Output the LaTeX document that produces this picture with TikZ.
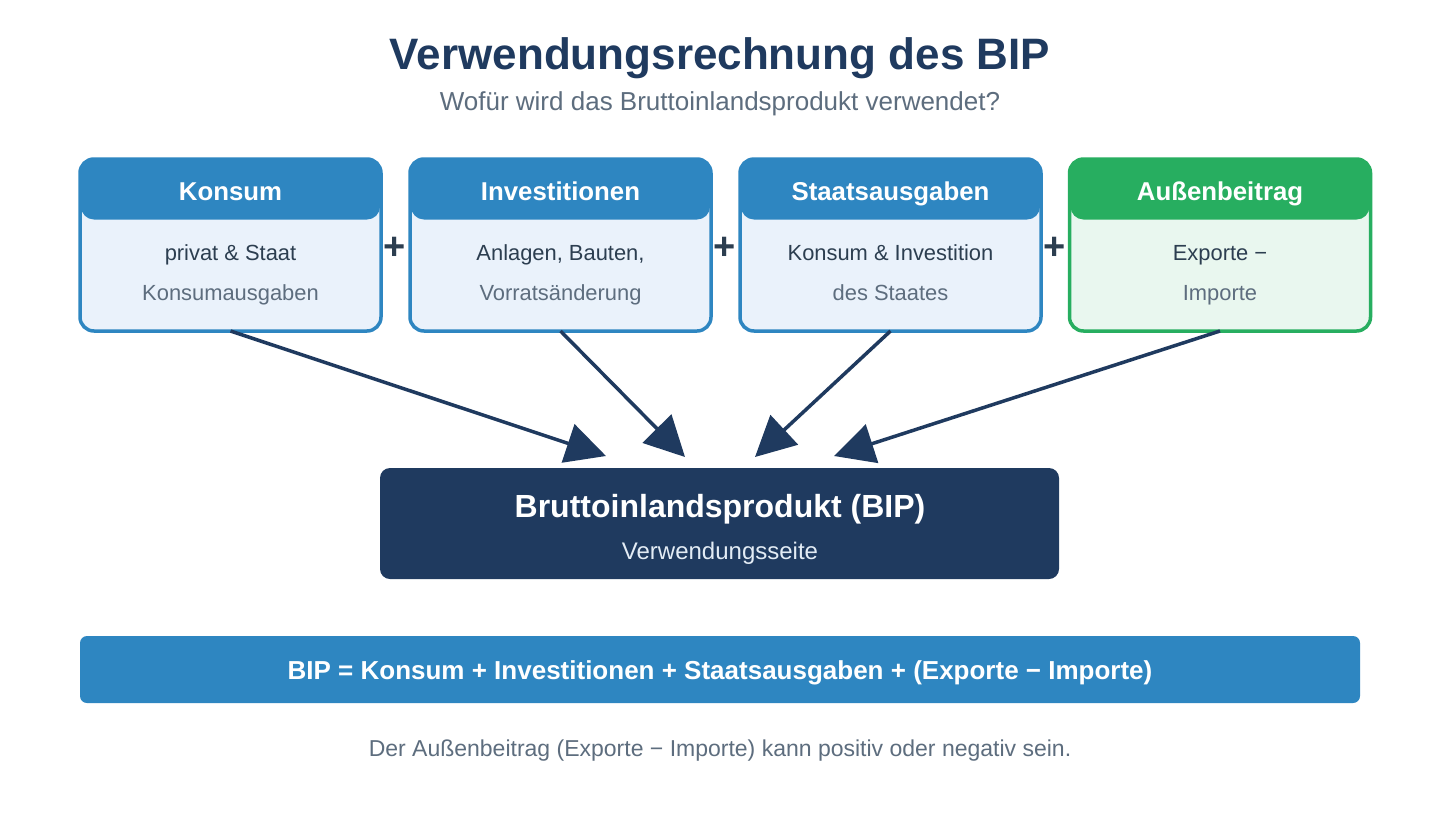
\documentclass[tikz,border=0pt]{standalone}
\usepackage{fontspec}
\setmainfont{Liberation Sans}
\usetikzlibrary{arrows.meta}
\definecolor{navy}{HTML}{1F3A5F}
\definecolor{cblue}{HTML}{2E86C1}
\definecolor{lblue}{HTML}{EAF2FB}
\definecolor{cgreen}{HTML}{27AE60}
\definecolor{lgreen}{HTML}{E9F7EF}
\definecolor{dtext}{HTML}{2C3E50}
\definecolor{gtext}{HTML}{5D6D7E}
\definecolor{stext}{HTML}{E3ECF5}
\newcommand{\fs}[1]{\fontsize{#1}{#1}\selectfont}
\tikzset{
  card/.style={rounded corners=14pt, minimum width=301pt, minimum height=172pt, inner sep=0pt, outer sep=0pt},
  cardhead/.style={fill=#1, rounded corners=13pt, minimum width=299pt, minimum height=60pt, inner sep=0pt},
  headtxt/.style={anchor=base, text=white, font=\fs{25.8}\bfseries},
  line1/.style={anchor=base, text=dtext, font=\fs{21.9}},
  line2/.style={anchor=base, text=gtext, font=\fs{21.9}},
  plussign/.style={anchor=base, text=dtext, font=\fs{38}\bfseries},
  arr/.style={draw=navy, line width=3.5pt, -{Triangle[length=40pt,width=40pt]}},
}
\begin{document}
\begin{tikzpicture}[x=1pt,y=-1pt]
\useasboundingbox[fill=white] (0,0) rectangle (1440,820);
% title
\node[anchor=base, text=navy, font=\fs{44}\bfseries] (title) at (720,69) {Verwendungsrechnung des BIP};
\node[anchor=base, text=gtext, font=\fs{26}] (subtitle) at (720,110) {Wofür wird das Bruttoinlandsprodukt verwendet?};
% cards
\foreach \nm/\cx/\c/\l/\hd/\ta/\tb in {
  k/230.5/cblue/lblue/Konsum/{privat \& Staat}/Konsumausgaben,
  i/560.5/cblue/lblue/Investitionen/{Anlagen, Bauten,}/Vorratsänderung,
  s/890.5/cblue/lblue/Staatsausgaben/{Konsum \& Investition}/des Staates,
  a/1220/cgreen/lgreen/Außenbeitrag/{Exporte −}/Importe}{
  \node[card, fill=\l] (\nm) at (\cx,245) {};
  \node[cardhead=\c] (\nm h) at (\cx,189.5) {};
  \draw[\c, line width=3.5pt, rounded corners=14pt] (\nm.south west) rectangle (\nm.north east);
  \node[headtxt] (\nm t) at (\cx,200) {\hd};
  \node[line1] (\nm a) at (\cx,260) {\ta};
  \node[line2] (\nm b) at (\cx,300) {\tb};
}
% plus signs
\node[plussign] (p1) at (394.5,259) {+};
\node[plussign] (p2) at (724.5,259) {+};
\node[plussign] (p3) at (1054.5,259) {+};
% BIP box
\node[fill=navy, rounded corners=10pt, minimum width=679pt, minimum height=111pt, inner sep=0pt] (bip) at (719.5,523.5) {};
\node[anchor=base, text=white, font=\fs{32}\bfseries] (bipt) at (720,517) {Bruttoinlandsprodukt (BIP)};
\node[anchor=base, text=stext, font=\fs{24}] (bips) at (720,559.5) {Verwendungsseite};
% arrow tips
\coordinate (t1) at (606,456);
\coordinate (t2) at (685,457);
\coordinate (t3) at (755,457);
\coordinate (t4) at (834,456);
\draw[arr] (k.south) -- (t1);
\draw[arr] (i.south) -- (t2);
\draw[arr] (s.south) -- (t3);
\draw[arr] (a.south) -- (t4);
% formula bar
\node[fill=cblue, rounded corners=7pt, minimum width=1280pt, minimum height=67pt, inner sep=0pt] (bar) at (720,669.5) {};
\node[anchor=base, text=white, font=\fs{26}\bfseries] (bart) at (720,679) {BIP = Konsum + Investitionen + Staatsausgaben + (Exporte − Importe)};
% footer
\node[anchor=base, text=gtext, font=\fs{23}] (foot) at (720,756.5) {Der Außenbeitrag (Exporte − Importe) kann positiv oder negativ sein.};
\end{tikzpicture}
\end{document}
